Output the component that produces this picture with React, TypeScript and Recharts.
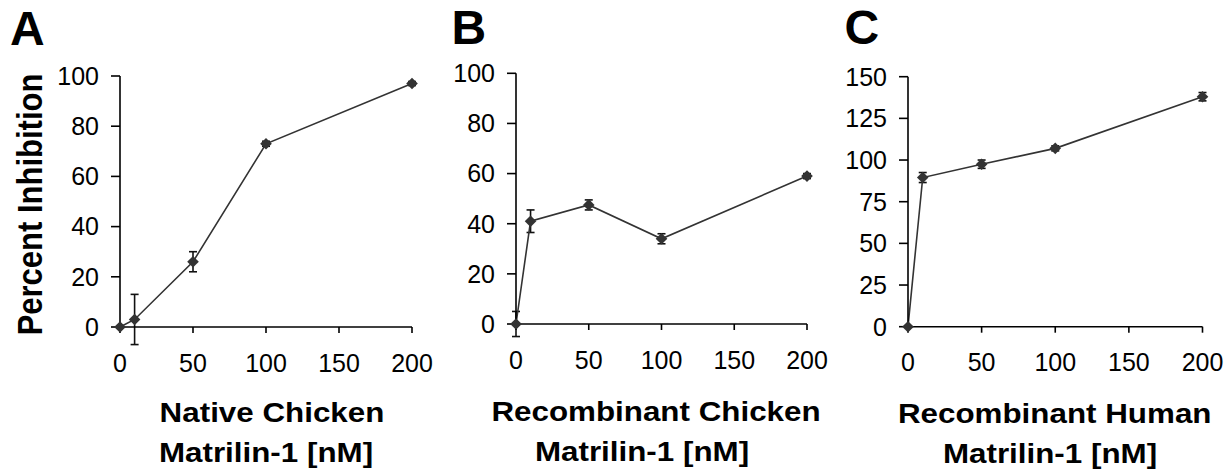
import { LineChart, Line, XAxis, YAxis, ErrorBar } from 'recharts';

const FONT = '"Liberation Sans", Arial, Helvetica, sans-serif';

// concentration of matrilin-1 (nM)
const concentrations = [0, 10, 50, 100, 200];
const xTicks = [0, 50, 100, 150, 200];

// percent inhibition, mean and error
const nativeChicken = [0, 3, 26, 73, 97];
const nativeChickenErr = [0, 10, 4, 1, 0.8];
const recombinantChicken = [0, 41, 47.5, 34, 59];
const recombinantChickenErr = [5, 4.5, 2, 2, 1];
const recombinantHuman = [0, 89.5, 97.5, 107, 138];
const recombinantHumanErr = [0, 3, 2.5, 1.5, 2.5];

const ticks100 = [0, 20, 40, 60, 80, 100];
const ticks150 = [0, 25, 50, 75, 100, 125, 150];

const buildRows = (vals: number[], errs: number[]) =>
  concentrations.map((x, i) => ({ x, y: vals[i], err: errs[i] }));

const renderDiamond = (p: any) => {
  const { cx, cy, index } = p;
  if (cx == null || cy == null) return <g key={index} />;
  const s = 5.8;
  return (
    <polygon
      key={index}
      points={`${cx},${cy - s} ${cx + s},${cy} ${cx},${cy + s} ${cx - s},${cy}`}
      fill="#333"
    />
  );
};

type Plot = { left: number; right: number; top: number; bottom: number };

function Panel({ plot, rows, yTicks, yMax }: { plot: Plot; rows: any[]; yTicks: number[]; yMax: number }) {
  const yAxisW = 60;
  const xAxisH = 60;
  const chartLeft = plot.left - yAxisW - 20;
  const width = plot.right - chartLeft + 30;
  const axisStyle = { stroke: '#000', strokeWidth: 1.6 };
  const tickStyle = { fill: '#000', fontSize: 25, fontFamily: FONT };
  return (
    <div style={{ position: 'absolute', left: chartLeft, top: 0 }}>
      <LineChart
        width={width}
        height={469}
        data={rows}
        margin={{ top: plot.top, left: 20, right: 30, bottom: 469 - plot.bottom - xAxisH }}
      >
        <XAxis
          type="number"
          dataKey="x"
          domain={[0, 200]}
          ticks={xTicks}
          height={xAxisH}
          axisLine={axisStyle}
          tickLine={axisStyle}
          tickSize={6}
          tickMargin={21}
          tick={tickStyle}
          interval={0}
        />
        <YAxis
          yAxisId="val"
          type="number"
          domain={[0, yMax]}
          ticks={yTicks}
          width={yAxisW}
          axisLine={axisStyle}
          tickLine={axisStyle}
          tickSize={9}
          tickMargin={12}
          tick={tickStyle}
          interval={0}
        />
        <YAxis yAxisId="err" orientation="right" width={0} hide type="number" domain={[0, yMax]} allowDataOverflow />
        <Line yAxisId="err" dataKey="y" stroke="none" dot={false} activeDot={false} isAnimationActive={false}>
          <ErrorBar dataKey="err" direction="y" width={4} stroke="#111" strokeWidth={1.6} isAnimationActive={false} />
        </Line>
        <Line
          yAxisId="val"
          type="linear"
          dataKey="y"
          stroke="#333"
          strokeWidth={1.6}
          dot={renderDiamond}
          activeDot={false}
          isAnimationActive={false}
        />
      </LineChart>
    </div>
  );
}

export default function App() {
  return (
    <div style={{ position: 'absolute', left: 0, top: 0, width: 1231, height: 469, background: '#fff' }}>
      <Panel
        plot={{ left: 120, right: 412, top: 76, bottom: 327 }}
        rows={buildRows(nativeChicken, nativeChickenErr)}
        yTicks={ticks100}
        yMax={100}
      />
      <Panel
        plot={{ left: 516, right: 807, top: 73.3, bottom: 324 }}
        rows={buildRows(recombinantChicken, recombinantChickenErr)}
        yTicks={ticks100}
        yMax={100}
      />
      <Panel
        plot={{ left: 908, right: 1202.5, top: 76.7, bottom: 326.7 }}
        rows={buildRows(recombinantHuman, recombinantHumanErr)}
        yTicks={ticks150}
        yMax={150}
      />
      <svg
        width={1231}
        height={469}
        style={{ position: 'absolute', left: 0, top: 0, pointerEvents: 'none' }}
        fontFamily={FONT}
        fontWeight="bold"
        fill="#000"
      >
        <text x={10} y={45} fontSize={48}>A</text>
        <text x={451.5} y={44} fontSize={48}>B</text>
        <text x={844.5} y={44} fontSize={48}>C</text>

        <text transform="translate(42,204.5) rotate(-90) scale(1,1.16)" fontSize={31} textAnchor="middle">
          Percent Inhibition
        </text>

        <text transform="translate(272,422) scale(1.12,1)" fontSize={28} textAnchor="middle">Native Chicken</text>
        <text transform="translate(266,462) scale(1.12,1)" fontSize={28} textAnchor="middle">Matrilin-1 [nM]</text>
        <text transform="translate(656,421) scale(1.12,1)" fontSize={28} textAnchor="middle">Recombinant Chicken</text>
        <text transform="translate(642,461) scale(1.12,1)" fontSize={28} textAnchor="middle">Matrilin-1 [nM]</text>
        <text transform="translate(1054.7,423) scale(1.12,1)" fontSize={28} textAnchor="middle">Recombinant Human</text>
        <text transform="translate(1050,463) scale(1.12,1)" fontSize={28} textAnchor="middle">Matrilin-1 [nM]</text>
      </svg>
    </div>
  );
}
